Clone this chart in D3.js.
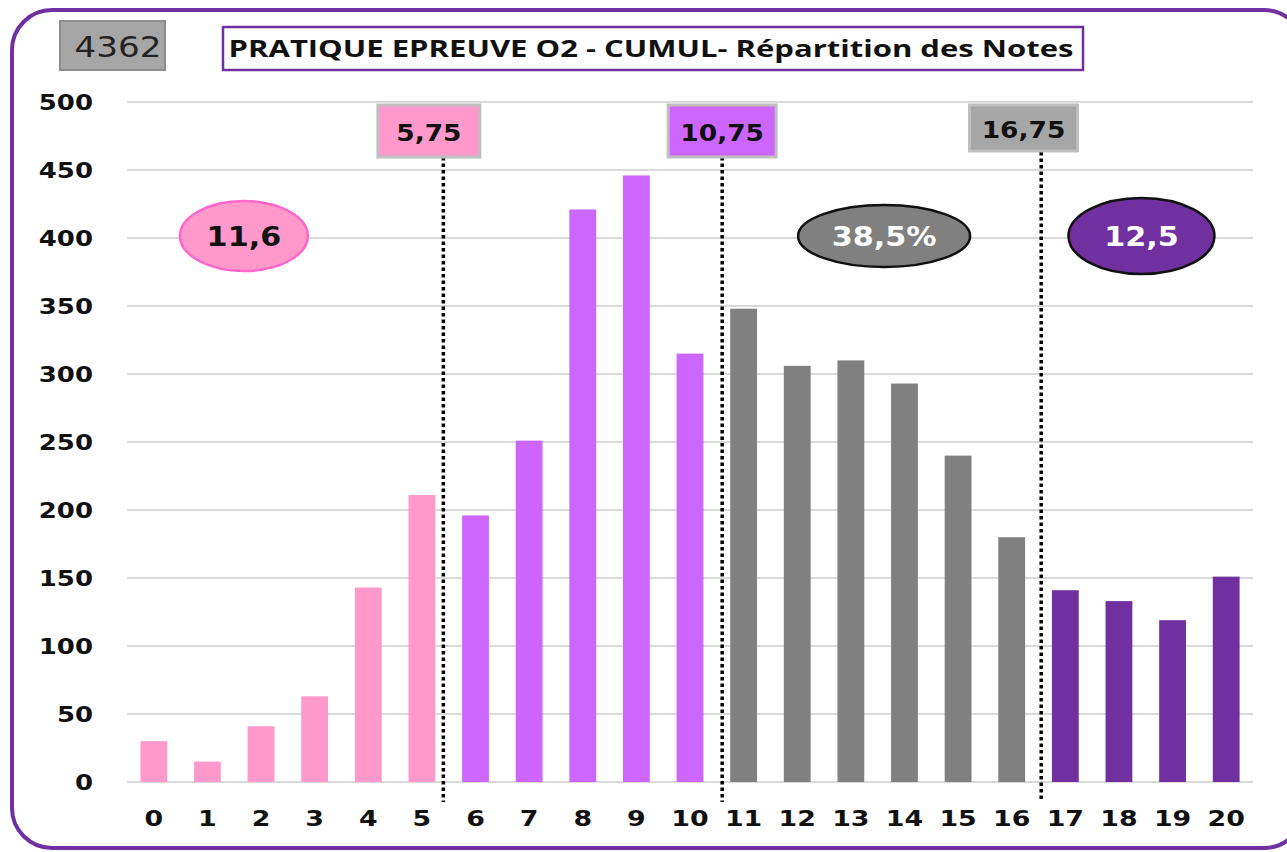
<!DOCTYPE html>
<html>
<head>
<meta charset="utf-8">
<script src="https://cdn.jsdelivr.net/npm/d3@7"></script>
<style>
  body { margin: 0; background: #fff; }
  svg { display: block; }
</style>
</head>
<body>
<script>
// Répartition des notes - pratique épreuve O2 (cumul)

// notes 0..20
var notes = d3.range(0, 21).map(String);
// nombre de candidats par note
var effectifs = [30, 15, 41, 63, 143, 211, 196, 251, 421, 446, 315, 348, 306, 310, 293, 240, 180, 141, 133, 119, 151];
// groupe de couleur de chaque note
var groupes = ["a","a","a","a","a","a","b","b","b","b","b","c","c","c","c","c","c","d","d","d","d"];
var yTicks = [0, 50, 100, 150, 200, 250, 300, 350, 400, 450, 500];

// seuils (lignes pointillées) et leurs étiquettes
var seuilPos = [5.9, 11.1, 17.05];
var seuilBoxPos = [5.63, 11.1, 16.72];
var seuilLabels = ["5,75", "10,75", "16,75"];
var seuilGroupes = ["a", "b", "c"];

// bulles
var bullePos = [2.18, 14.12, 18.92];
var bulleLabels = ["11,6", "38,5%", "12,5"];
var bulleGroupes = ["a", "c", "d"];

var total = "4362";
var titre = "PRATIQUE EPREUVE O2 - CUMUL- Répartition des Notes";

var couleurs = { a: "#ff99cc", b: "#cc66ff", c: "#808080", d: "#7030a0" };

var W = 1287, H = 852;
var plotLeft = 127, plotRight = 1253, plotTop = 102, plotBottom = 782;

var svg = d3.select("body").append("svg").attr("width", W).attr("height", H);

var x = d3.scaleBand().domain(notes).range([plotLeft, plotRight]).paddingInner(0.5).paddingOuter(0.25);
var xl = d3.scaleLinear().domain([0, 21]).range([plotLeft, plotRight]);
var y = d3.scaleLinear().domain([0, 500]).range([plotBottom, plotTop]);

// élargir un texte horizontalement (le graphique d'origine est étiré)
function stretch(sel, k) {
  sel.each(function() {
    var w = this.getComputedTextLength();
    d3.select(this).attr("textLength", w * k).attr("lengthAdjust", "spacingAndGlyphs");
  });
}

// cadre
svg.append("rect")
  .attr("x", 12).attr("y", 10).attr("width", 1292).attr("height", 838)
  .attr("rx", 40).attr("ry", 40)
  .attr("fill", "none").attr("stroke", "#7030a0").attr("stroke-width", 4);

// grille
svg.append("g").selectAll("line").data(yTicks).join("line")
  .attr("x1", plotLeft).attr("x2", plotRight)
  .attr("y1", d => y(d)).attr("y2", d => y(d))
  .attr("stroke", "#d9d9d9").attr("stroke-width", 2);

// barres
svg.append("g").selectAll("rect").data(effectifs).join("rect")
  .attr("x", (d, i) => x(notes[i]))
  .attr("width", x.bandwidth())
  .attr("y", d => y(d))
  .attr("height", d => y(0) - y(d))
  .attr("fill", (d, i) => couleurs[groupes[i]]);

// axe y
var gy = svg.append("g").attr("transform", "translate(" + 93 + ",0)")
  .call(d3.axisLeft(y).tickValues(yTicks).tickSize(0).tickPadding(0));
gy.select(".domain").remove();
gy.selectAll("text")
  .attr("font-family", "DejaVu Sans").attr("font-weight", "bold").attr("font-size", 22)
  .attr("fill", "#111").attr("dy", "0.36em");
stretch(gy.selectAll("text"), 1.18);

// axe x
var gx = svg.append("g").attr("transform", "translate(0," + plotBottom + ")")
  .call(d3.axisBottom(x).tickSize(0).tickPadding(0));
gx.select(".domain").remove();
gx.selectAll("text")
  .attr("y", 44).attr("dy", 0)
  .attr("font-family", "DejaVu Sans").attr("font-weight", "bold").attr("font-size", 22)
  .attr("fill", "#111");
stretch(gx.selectAll("text"), 1.22);

// lignes pointillées
svg.append("g").selectAll("line").data(seuilPos).join("line")
  .attr("x1", d => xl(d)).attr("x2", d => xl(d))
  .attr("y1", (d, i) => i == 2 ? 152 : 157).attr("y2", 802)
  .attr("stroke", "#000").attr("stroke-width", 3.5).attr("stroke-dasharray", "3.5,3");

// étiquettes des seuils
var sb = svg.append("g").selectAll("g").data(seuilLabels).join("g")
  .attr("transform", (d, i) => "translate(" + xl(seuilBoxPos[i]) + ",0)");
sb.append("rect")
  .attr("x", (d, i) => i == 0 ? -51 : -54).attr("width", (d, i) => i == 0 ? 102 : 108)
  .attr("y", 105).attr("height", (d, i) => i == 2 ? 46 : 52)
  .attr("fill", (d, i) => seuilGroupes[i] == "c" ? "#a6a6a6" : couleurs[seuilGroupes[i]])
  .attr("stroke", "#bfbfbf").attr("stroke-width", 3);
sb.append("text")
  .attr("text-anchor", "middle").attr("y", (d, i) => i == 2 ? 138 : 141)
  .attr("font-family", "DejaVu Sans").attr("font-weight", "bold").attr("font-size", 23)
  .attr("fill", "#111").text(d => d);
stretch(sb.selectAll("text"), 1.15);

// bulles
var bulleRx = [64, 86, 73], bulleRy = [35, 31, 38];
var bg = svg.append("g").selectAll("g").data(bulleLabels).join("g")
  .attr("transform", (d, i) => "translate(" + xl(bullePos[i]) + "," + (y(400) - 2) + ")");
bg.append("ellipse")
  .attr("rx", (d, i) => bulleRx[i]).attr("ry", (d, i) => bulleRy[i])
  .attr("fill", (d, i) => couleurs[bulleGroupes[i]])
  .attr("stroke", (d, i) => i == 0 ? "#ff66cc" : "#111").attr("stroke-width", 2.5);
bg.append("text")
  .attr("text-anchor", "middle").attr("dy", "0.36em")
  .attr("font-family", "DejaVu Sans").attr("font-weight", "bold").attr("font-size", 27)
  .attr("fill", (d, i) => i == 0 ? "#111" : "#fff").text(d => d);
stretch(bg.selectAll("text"), 1.12);

// total
svg.append("rect")
  .attr("x", 60).attr("y", 21).attr("width", 105).attr("height", 49)
  .attr("fill", "#a6a6a6").attr("stroke", "#8c8c8c").attr("stroke-width", 2);
svg.append("text")
  .attr("x", 118).attr("y", 57).attr("text-anchor", "middle")
  .attr("font-family", "DejaVu Sans").attr("font-size", 29).attr("fill", "#222")
  .attr("textLength", 87).attr("lengthAdjust", "spacingAndGlyphs")
  .text(total);

// titre
svg.append("rect")
  .attr("x", 223).attr("y", 27).attr("width", 860).attr("height", 43)
  .attr("fill", "#fff").attr("stroke", "#7030a0").attr("stroke-width", 2.5);
svg.append("text")
  .attr("x", 651).attr("y", 57).attr("text-anchor", "middle")
  .attr("font-family", "Open Sans").attr("font-weight", "bold").attr("font-size", 23)
  .attr("fill", "#111")
  .attr("textLength", 845).attr("lengthAdjust", "spacingAndGlyphs")
  .text(titre);
</script>
</body>
</html>
